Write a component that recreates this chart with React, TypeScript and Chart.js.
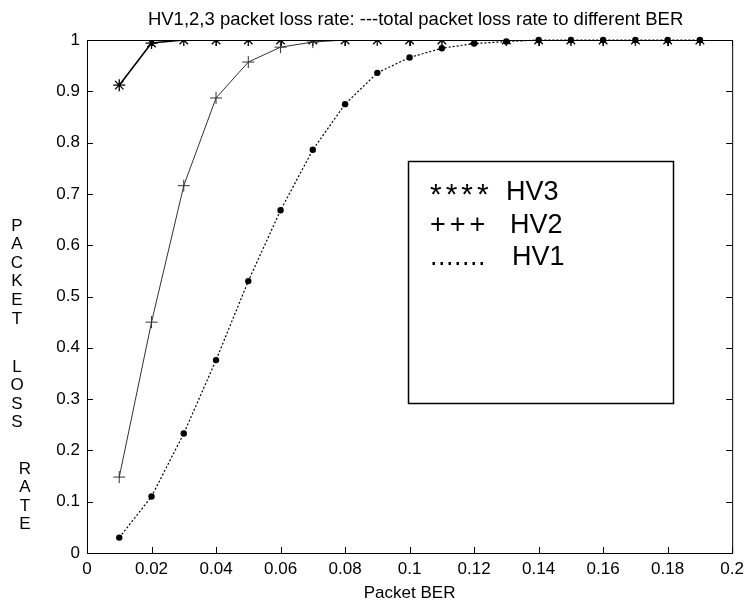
import { useEffect, useRef } from "react";
import { Chart, registerables } from "chart.js";

Chart.register(...registerables);

// ---- data ----
const berValues = [0.01, 0.02, 0.03, 0.04, 0.05, 0.06, 0.07, 0.08, 0.09, 0.1, 0.11, 0.12, 0.13, 0.14, 0.15, 0.16, 0.17, 0.18, 0.19];
const hv3Values = [0.912, 0.994, 1, 1, 1, 1, 1, 1, 1, 1, 1, 1, 1, 1, 1, 1, 1, 1, 1];
const hv2Values = [0.148, 0.45, 0.716, 0.887, 0.957, 0.986, 0.996, 1, 1, 1, 1, 1, 1, 1, 1, 1, 1, 1, 1];
const hv1Values = [0.03, 0.11, 0.233, 0.376, 0.53, 0.668, 0.786, 0.875, 0.936, 0.966, 0.984, 0.993, 0.997, 1, 1, 1, 1, 1, 1];
const xTickValues = [0, 0.02, 0.04, 0.06, 0.08, 0.1, 0.12, 0.14, 0.16, 0.18, 0.2];
const yTickValues = [0, 0.1, 0.2, 0.3, 0.4, 0.5, 0.6, 0.7, 0.8, 0.9, 1];
const titleText = "HV1,2,3 packet loss rate: ---total packet loss rate to different BER";
const xAxisLabel = "Packet BER";
const yAxisWords = ["PACKET", "LOSS", "RATE"];
const legendMarkers = ["****", "+++", "......."];
const legendLabels = ["HV3", "HV2", "HV1"];

const FONT = "'Liberation Sans', Arial, Helvetica, sans-serif";

const fmt = (v: number) => String(Math.round(v * 100) / 100);

const decorPlugin = {
  id: "decor",
  afterDraw(chart: any) {
    const ctx = chart.ctx as CanvasRenderingContext2D;
    const { left, right, top, bottom } = chart.chartArea;
    const xs = chart.scales.x;
    const ys = chart.scales.y;
    ctx.save();
    ctx.strokeStyle = "#000";
    ctx.fillStyle = "#000";
    ctx.lineWidth = 1;
    // box (top and right)
    ctx.beginPath();
    ctx.moveTo(left, top + 0.5);
    ctx.lineTo(right + 0.5, top + 0.5);
    ctx.lineTo(right + 0.5, bottom);
    ctx.stroke();
    // inward ticks
    const tl = 6;
    ctx.beginPath();
    xTickValues.forEach((v) => {
      const px = Math.round(xs.getPixelForValue(v)) + 0.5;
      ctx.moveTo(px, bottom);
      ctx.lineTo(px, bottom - tl);
      ctx.moveTo(px, top);
      ctx.lineTo(px, top + tl);
    });
    yTickValues.forEach((v) => {
      const py = Math.round(ys.getPixelForValue(v)) + 0.5;
      ctx.moveTo(left, py);
      ctx.lineTo(left + tl, py);
      ctx.moveTo(right, py);
      ctx.lineTo(right - tl, py);
    });
    ctx.stroke();

    // title
    ctx.font = `18.5px ${FONT}`;
    ctx.textAlign = "center";
    ctx.textBaseline = "alphabetic";
    ctx.fillText(titleText, (left + right) / 2 + 6, 25);

    // x axis label
    ctx.font = `17px ${FONT}`;
    ctx.fillText(xAxisLabel, (left + right) / 2, 598);

    // y axis label: stacked letters
    ctx.font = `17px ${FONT}`;
    ctx.textBaseline = "middle";
    const wordStarts = [226, 367, 469];
    const wordX = [17, 17, 25];
    const step = 18.6;
    yAxisWords.forEach((w, wi) => {
      for (let i = 0; i < w.length; i++) {
        ctx.fillText(w[i], wordX[wi], wordStarts[wi] + i * step);
      }
    });

    // legend box
    ctx.lineWidth = 1.5;
    ctx.strokeRect(408.5, 161.5, 265, 242);
    ctx.textAlign = "left";
    ctx.textBaseline = "alphabetic";
    const baselines = [200, 233, 265];
    const markerFont = [30, 27, 27];
    const markerSpacing = ["4px", "4px", "0.5px"];
    const labelX = [506, 510, 512];
    legendLabels.forEach((lab, i) => {
      ctx.font = `${markerFont[i]}px ${FONT}`;
      (ctx as any).letterSpacing = markerSpacing[i];
      ctx.fillText(legendMarkers[i], 430, baselines[i] + (i === 0 ? 4 : 0));
      (ctx as any).letterSpacing = "0px";
      ctx.font = `27px ${FONT}`;
      ctx.fillText(lab, labelX[i], baselines[i]);
    });
    ctx.restore();
  },
};

export default function App() {
  const canvasRef = useRef<HTMLCanvasElement | null>(null);

  useEffect(() => {
    if (!canvasRef.current) return;
    const toPts = (vals: number[]) => vals.map((y, i) => ({ x: berValues[i], y }));
    const chart = new Chart(canvasRef.current, {
      type: "line",
      data: {
        datasets: [
          {
            label: "HV1",
            data: toPts(hv1Values),
            borderColor: "#000",
            backgroundColor: "#000",
            borderWidth: 1.2,
            borderDash: [2, 2],
            pointStyle: "circle",
            pointRadius: 3.2,
            pointBorderWidth: 0,
            pointBackgroundColor: "#000",
            tension: 0,
            clip: false as any,
          },
          {
            label: "HV2",
            data: toPts(hv2Values),
            borderColor: "#333",
            backgroundColor: "#333",
            borderWidth: 1,
            pointStyle: "cross",
            pointRadius: 6,
            pointBorderWidth: 1,
            pointBorderColor: "#333",
            tension: 0,
          },
          {
            label: "HV3",
            data: toPts(hv3Values),
            borderColor: "#000",
            backgroundColor: "#000",
            borderWidth: 1.6,
            pointStyle: "star",
            pointRadius: 6,
            pointBorderWidth: 1.3,
            pointBorderColor: "#000",
            tension: 0,
          },
        ],
      },
      options: {
        animation: false,
        responsive: false,
        events: [],
        layout: { padding: { top: 40, right: 14, left: 0, bottom: 0 } },
        plugins: {
          legend: { display: false },
          title: { display: false },
          tooltip: { enabled: false },
        },
        scales: {
          x: {
            type: "linear",
            min: 0,
            max: 0.2,
            afterBuildTicks: (scale: any) => {
              scale.ticks = xTickValues.map((v) => ({ value: v }));
            },
            afterFit: (scale: any) => {
              scale.height = 52;
            },
            grid: { display: true, drawOnChartArea: false, drawTicks: false },
            border: { display: true, color: "#000", width: 1 },
            ticks: {
              color: "#000",
              padding: 6,
              maxRotation: 0,
              autoSkip: false,
              font: { family: FONT, size: 17 },
              callback: (v: any) => fmt(Number(v)),
            },
          },
          y: {
            type: "linear",
            min: 0,
            max: 1,
            afterBuildTicks: (scale: any) => {
              scale.ticks = yTickValues.map((v) => ({ value: v }));
            },
            afterFit: (scale: any) => {
              scale.width = 87;
            },
            grid: { display: true, drawOnChartArea: false, drawTicks: false },
            border: { display: true, color: "#000", width: 1 },
            ticks: {
              color: "#000",
              padding: 7,
              autoSkip: false,
              font: { family: FONT, size: 17 },
              callback: (v: any) => fmt(Number(v)),
            },
          },
        },
      },
      plugins: [decorPlugin],
    });
    return () => chart.destroy();
  }, []);

  return (
    <div style={{ position: "absolute", left: 0, top: 0, width: 750, height: 605, background: "#fff" }}>
      <canvas ref={canvasRef} width={750} height={605} style={{ display: "block" }} />
    </div>
  );
}
